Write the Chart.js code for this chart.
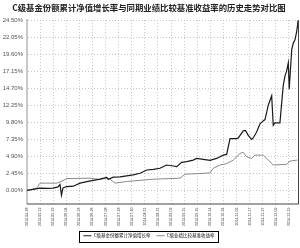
<!DOCTYPE html>
<html><head><meta charset="utf-8">
<script src="https://cdn.jsdelivr.net/npm/chart.js@4/dist/chart.umd.min.js"></script>
<style>html,body{margin:0;padding:0;background:#fff}#w{width:300px;height:248px}</style>
</head><body><div id="w"><canvas id="c"></canvas></div>
<script>
const chartTitle = 'C级基金份额累计净值增长率与同期业绩比较基准收益率的历史走势对比图';
const seriesNames = ['C级基金份额累计净值增长率', 'C级业绩比较基准收益率'];
const xTickLabels = ['2014-04-28','2014-05-12','2014-05-22','2014-06-04','2014-06-16','2014-06-26','2014-07-08','2014-07-18','2014-07-30','2014-08-11','2014-08-21','2014-09-02','2014-09-15','2014-09-25','2014-10-14','2014-10-24','2014-11-05','2014-11-17','2014-11-27','2014-12-09','2014-12-19'];
const yTickValues = [0, 2.45, 4.90, 7.35, 9.80, 12.25, 14.70, 17.15, 19.60, 22.05, 24.50];
const yTickLabels = ['0.00%','2.45%','4.90%','7.35%','9.80%','12.25%','14.70%','17.15%','19.60%','22.05%','24.50%'];
// positions along the date axis (in tick-label units) and values (%)
const navX = [0,0.46,0.99,1.53,1.98,2.37,2.52,2.63,2.75,3.03,3.53,4.05,4.56,5.06,5.57,6.08,6.21,6.59,7.10,7.61,8.11,8.63,9.14,9.64,10.15,10.66,11.17,11.43,11.81,12.19,12.69,12.95,13.46,13.97,14.48,14.98,15.24,15.50,16.01,16.13,16.51,16.68,16.89,17.15,17.27,17.53,17.79,17.92,18.17,18.30,18.42,18.68,18.80,18.93,19.31,19.56,19.69,19.82,19.95,20.02,20.21,20.33,20.46,20.59,20.66,20.69];
const navY = [0,0.14,0.33,0.29,0.33,0.50,0.85,-0.70,0.35,0.55,0.60,1.04,1.25,1.45,1.63,1.86,1.60,1.90,1.95,2.09,2.23,2.47,2.94,3.04,3.19,3.66,3.52,3.43,4.04,4.14,4.37,4.61,4.47,4.33,4.61,5.09,5.19,7.47,7.47,7.57,8.60,8.66,7.94,7.37,7.57,8.43,9.61,9.86,10.23,11.29,12.30,13.66,9.40,9.76,9.76,15.09,16.51,17.23,18.43,14.61,20.33,21.29,21.76,22.94,23.90,24.55];
const benchX = [0,0.74,0.99,2.27,2.52,3.03,4.81,5.57,6.08,6.34,6.72,7.61,9.64,11.68,12.06,13.21,13.97,14.22,14.73,15.24,15.75,16.26,16.51,16.77,17.15,17.40,18.04,18.30,18.80,19.82,20.08,20.63];
const benchY = [0,0.33,1.04,1.04,1.20,1.70,1.76,1.55,1.80,1.60,1.04,1.28,1.61,1.76,2.33,2.43,2.52,3.19,3.66,3.86,4.37,5.33,5.50,4.85,4.61,5.09,5.09,4.61,3.66,3.76,4.23,4.37];

const frame = {
  id: 'frame',
  afterDraw(chart) {
    const {ctx, chartArea: a} = chart;
    ctx.save();
    ctx.strokeStyle = '#444'; ctx.lineWidth = 1;
    ctx.beginPath();
    ctx.moveTo(a.right + 0.5, a.top); ctx.lineTo(a.right + 0.5, a.bottom + 0.5);
    ctx.lineTo(a.left, a.bottom + 0.5);
    ctx.stroke();
    const hb = chart.legend.legendHitBoxes;
    if (hb && hb.length) {
      const l = Math.min(...hb.map(b => b.left)) - 4;
      const r = Math.max(...hb.map(b => b.left + b.width)) + 4;
      const t = Math.min(...hb.map(b => b.top)) - 3;
      const bt = Math.max(...hb.map(b => b.top + b.height)) + 3;
      ctx.strokeStyle = '#000';
      ctx.strokeRect(Math.round(l) + 0.5, Math.round(t) + 0.5, Math.round(r - l), Math.round(bt - t));
    }
    ctx.restore();
  }
};

new Chart(document.getElementById('c'), {
  type: 'line',
  data: {
    datasets: [
      { label: seriesNames[0], data: navX.map((x, i) => ({x, y: navY[i]})), borderColor: '#1a1a1a', backgroundColor: '#1a1a1a', borderWidth: 1.2, pointRadius: 0, tension: 0, pointStyle: 'line' },
      { label: seriesNames[1], data: benchX.map((x, i) => ({x, y: benchY[i]})), borderColor: '#8a8a8a', backgroundColor: '#8a8a8a', borderWidth: 1, pointRadius: 0, tension: 0, pointStyle: 'line' }
    ]
  },
  options: {
    responsive: true, maintainAspectRatio: false, animation: false,
    layout: { padding: { left: 0, right: 2, top: 0, bottom: 0 } },
    plugins: {
      title: { display: true, text: chartTitle, color: '#222', font: { family: '"Noto Sans CJK SC"', size: 8.4, weight: 'bold' }, padding: { top: 3, bottom: 7 } },
      legend: { display: true, position: 'bottom', labels: { color: '#111', font: { family: '"Noto Sans CJK SC"', size: 4.5 }, usePointStyle: true, pointStyleWidth: 8, boxHeight: 4.5, padding: 6 } },
      tooltip: { enabled: false }
    },
    scales: {
      x: {
        type: 'linear', min: 0, max: 20.69,
        afterBuildTicks: s => { s.ticks = xTickLabels.map((_, i) => ({ value: i })); },
        afterFit: s => { s.height = 24; },
        grid: { color: '#b8b8b8', lineWidth: 0.8, drawTicks: false, borderDash: [1, 2] },
        border: { display: false, dash: [1, 2] },
        ticks: { autoSkip: false, maxRotation: 90, minRotation: 90, padding: 4, color: '#333', font: { family: '"Liberation Sans"', size: 3.6 }, callback: (v, i) => xTickLabels[i] }
      },
      y: {
        type: 'linear', min: -1.9, max: 24.6,
        afterBuildTicks: s => { s.ticks = yTickValues.map(v => ({ value: v })); },
        afterFit: s => { s.width = 27; },
        grid: { color: '#b8b8b8', lineWidth: 0.8, drawTicks: false },
        border: { display: true, color: '#c8c8c8', width: 2, dash: [1, 2] },
        ticks: { padding: 4, color: '#555', font: { family: '"Liberation Sans"', size: 6 }, callback: (v, i) => yTickLabels[i] }
      }
    }
  },
  plugins: [frame]
});
</script></body></html>
